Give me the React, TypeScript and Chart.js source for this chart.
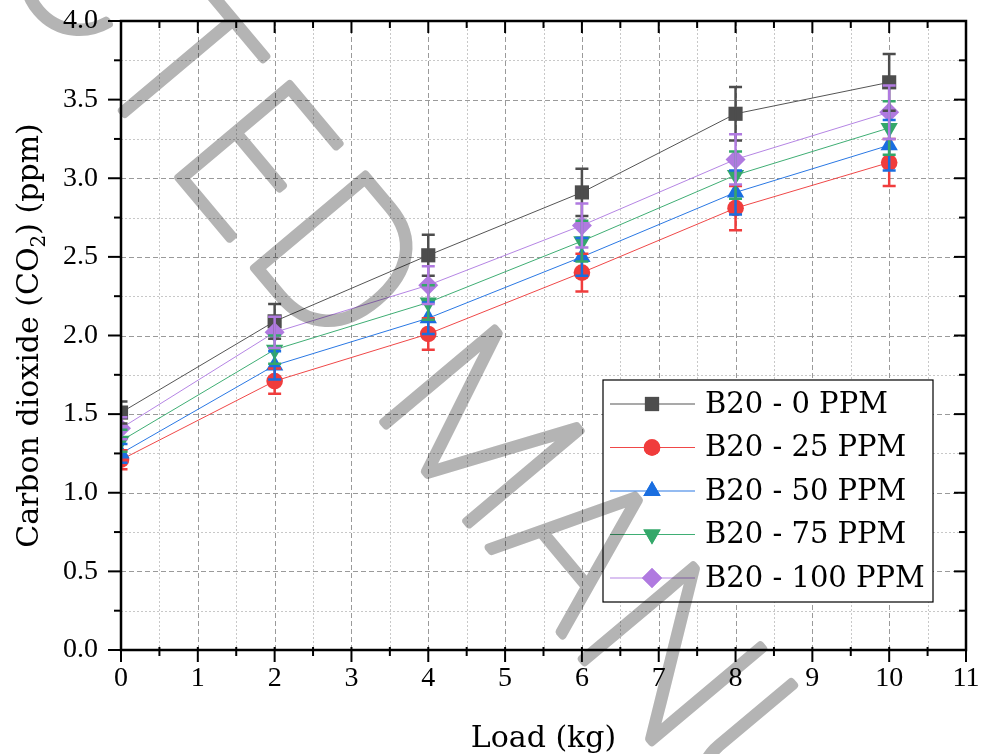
import React, { useEffect, useRef } from "react";
import { Chart, registerables } from "chart.js";
import { drawPoint } from "chart.js/helpers";
Chart.register(...registerables);

const loads = [0, 2, 4, 6, 8, 10];
const seriesNames = ["B20 - 0 PPM", "B20 - 25 PPM", "B20 - 50 PPM", "B20 - 75 PPM", "B20 - 100 PPM"];
const b20_0 = [1.51, 2.09, 2.51, 2.91, 3.41, 3.61];
const b20_25 = [1.21, 1.71, 2.01, 2.40, 2.81, 3.10];
const b20_50 = [1.25, 1.81, 2.11, 2.50, 2.91, 3.21];
const b20_75 = [1.33, 1.91, 2.21, 2.60, 3.02, 3.32];
const b20_100 = [1.41, 2.02, 2.32, 2.70, 3.12, 3.42];
const err_0 = [0.07, 0.11, 0.13, 0.15, 0.17, 0.18];
const err_25 = [0.06, 0.08, 0.10, 0.12, 0.14, 0.15];
const err_50 = [0.06, 0.09, 0.10, 0.12, 0.14, 0.16];
const err_75 = [0.07, 0.09, 0.11, 0.13, 0.15, 0.17];
const err_100 = [0.07, 0.10, 0.12, 0.14, 0.16, 0.17];
const seriesValues = [b20_0, b20_25, b20_50, b20_75, b20_100];
const seriesErrors = [err_0, err_25, err_50, err_75, err_100];

const xMajorTicks = [0, 1, 2, 3, 4, 5, 6, 7, 8, 9, 10, 11];
const xMinorTicks = [0.5, 1.5, 2.5, 3.5, 4.5, 5.5, 6.5, 7.5, 8.5, 9.5, 10.5];
const yMajorTicks = [0, 0.5, 1, 1.5, 2, 2.5, 3, 3.5, 4];
const yMinorTicks = [0.25, 0.75, 1.25, 1.75, 2.25, 2.75, 3.25, 3.75];

const xTitle = "Load (kg)";
const yTitleParts = ["Carbon dioxide (CO", "2", ") (ppm)"];
const watermark = "RETRACTED MANUSCRIPT";

const markerColors = ["#4d4d4d", "#f03c3c", "#1a6ee0", "#34a86a", "#b07ae0"];
const lineColors = ["#555555", "#f04848", "#2a78e4", "#3fae74", "#b585e4"];
const pointStyles = ["rect", "circle", "triangle", "triangle", "rectRot"];
const pointRotations = [0, 0, 0, 180, 0];
const pointRadii = [10, 8.3, 10, 10, 10];

const FONT = '"DejaVu Serif", serif';
const TICK_FONT = '"Liberation Serif", "Times New Roman", serif';

const wmCandidates = [
  '200 200px "DejaVu Sans"',
  '300 200px Lato',
  '100 200px Lato',
  '300 200px Inter',
  '100 200px Inter',
  '300 200px Roboto',
  '100 200px Roboto',
  '300 200px "Open Sans"',
  '300 200px "Noto Sans"',
  '400 200px "DejaVu Sans"',
];

function measureStem(font: string): number {
  const c = document.createElement("canvas");
  c.width = 200; c.height = 260;
  const g = c.getContext("2d")!;
  g.font = font;
  g.fillStyle = "#000";
  g.textBaseline = "alphabetic";
  g.fillText("l", 60, 220);
  const row = g.getImageData(0, 150, 200, 1).data;
  let n = 0;
  for (let i = 0; i < 200; i++) if (row[i * 4 + 3] > 128) n++;
  return n;
}

function drawWatermark(ctx: CanvasRenderingContext2D, W: number, H: number) {
  const target = 13;
  let best = wmCandidates[wmCandidates.length - 1];
  let bestStem = 1e9;
  for (const f of wmCandidates) {
    const s = measureStem(f);
    if (s > 2 && s < bestStem) { bestStem = s; best = f; }
  }
  const off = document.createElement("canvas");
  off.width = W; off.height = H;
  const g = off.getContext("2d")! as any;
  g.font = best;
  g.textBaseline = "alphabetic";
  const wED = g.measureText("ED ").width;
  const sp = (319 - wED) / 3;
  g.letterSpacing = `${sp}px`;
  const prefixW = g.measureText("RETRACT").width;
  const lsb = -g.measureText("E").actualBoundingBoxLeft;
  const th = (50 * Math.PI) / 180;
  const ux = Math.cos(th), uy = Math.sin(th);
  const vx = Math.sin(th), vy = -Math.cos(th);
  const half = Math.max(bestStem, target) / 2;
  const Px = 187 - vx * half, Py = 178 - vy * half;
  const along = prefixW + lsb + half;
  g.translate(Px - ux * along, Py - uy * along);
  g.rotate(th);
  g.fillStyle = "rgb(180,180,180)";
  g.strokeStyle = "rgb(180,180,180)";
  g.fillText(watermark, 0, 0);
  if (bestStem < target) {
    g.lineWidth = target - bestStem;
    g.lineJoin = "round";
    g.strokeText(watermark, 0, 0);
  }
  ctx.save();
  ctx.globalCompositeOperation = "multiply";
  ctx.drawImage(off, 0, 0);
  ctx.restore();
}

const customPlugin = {
  id: "customDraw",
  beforeDraw(chart: any) {
    const { ctx, width, height } = chart;
    ctx.save();
    ctx.fillStyle = "#ffffff";
    ctx.fillRect(0, 0, width, height);
    ctx.restore();
  },
  beforeDatasetsDraw(chart: any) {
    const { ctx, chartArea: a, scales } = chart;
    const x = scales.x, y = scales.y;
    ctx.save();
    ctx.lineWidth = 1;
    const vline = (v: number) => {
      const px = Math.round(x.getPixelForValue(v)) + 0.5;
      ctx.beginPath(); ctx.moveTo(px, a.top); ctx.lineTo(px, a.bottom); ctx.stroke();
    };
    const hline = (v: number) => {
      const py = Math.round(y.getPixelForValue(v)) + 0.5;
      ctx.beginPath(); ctx.moveTo(a.left, py); ctx.lineTo(a.right, py); ctx.stroke();
    };
    ctx.strokeStyle = "#c8c8c8";
    ctx.setLineDash([2, 2]);
    xMinorTicks.forEach(vline);
    yMinorTicks.forEach(hline);
    ctx.strokeStyle = "#9a9a9a";
    ctx.setLineDash([5, 3]);
    xMajorTicks.slice(1, -1).forEach(vline);
    yMajorTicks.slice(1, -1).forEach(hline);
    ctx.restore();
  },
  afterDatasetsDraw(chart: any) {
    const { ctx, chartArea: a, scales } = chart;
    const x = scales.x, y = scales.y;
    ctx.save();
    ctx.beginPath();
    ctx.rect(a.left, a.top, a.right - a.left, a.bottom - a.top);
    ctx.clip();
    ctx.lineWidth = 2.5;
    seriesValues.forEach((vals, i) => {
      ctx.strokeStyle = markerColors[i];
      vals.forEach((v, j) => {
        const e = seriesErrors[i][j];
        const px = x.getPixelForValue(loads[j]);
        const top = y.getPixelForValue(v + e);
        const bot = y.getPixelForValue(v - e);
        ctx.beginPath();
        ctx.moveTo(px, top); ctx.lineTo(px, bot);
        ctx.moveTo(px - 6.5, top); ctx.lineTo(px + 6.5, top);
        ctx.moveTo(px - 6.5, bot); ctx.lineTo(px + 6.5, bot);
        ctx.stroke();
      });
    });
    ctx.restore();
  },
  afterDraw(chart: any) {
    const { ctx, chartArea: a, scales } = chart;
    const x = scales.x, y = scales.y;
    ctx.save();
    // frame
    ctx.strokeStyle = "#000";
    ctx.lineWidth = 2.5;
    ctx.strokeRect(a.left, a.top, a.right - a.left, a.bottom - a.top);
    ctx.lineWidth = 2;
    const tk = (x1: number, y1: number, x2: number, y2: number) => {
      ctx.beginPath(); ctx.moveTo(x1, y1); ctx.lineTo(x2, y2); ctx.stroke();
    };
    xMajorTicks.forEach((v) => {
      const px = x.getPixelForValue(v);
      tk(px, a.bottom - 3, px, a.bottom + 12);
      tk(px, a.top, px, a.top + 12);
    });
    xMinorTicks.forEach((v) => {
      const px = x.getPixelForValue(v);
      tk(px, a.bottom - 3, px, a.bottom + 6);
      tk(px, a.top, px, a.top + 7);
    });
    yMajorTicks.forEach((v) => {
      const py = y.getPixelForValue(v);
      tk(a.left - 13, py, a.left, py);
      tk(a.right - 12, py, a.right, py);
    });
    yMinorTicks.forEach((v) => {
      const py = y.getPixelForValue(v);
      tk(a.left - 7, py, a.left, py);
      tk(a.right - 7, py, a.right, py);
    });

    // axis titles
    ctx.fillStyle = "#000";
    ctx.font = `30px ${FONT}`;
    ctx.textAlign = "center";
    ctx.textBaseline = "alphabetic";
    ctx.fillText(xTitle, (a.left + a.right) / 2, a.bottom + 97);

    ctx.save();
    ctx.translate(a.left - 83, (a.top + a.bottom) / 2);
    ctx.rotate(-Math.PI / 2);
    ctx.textAlign = "left";
    const big = `30px ${FONT}`, small = `20px ${FONT}`;
    ctx.font = big;
    const w1 = ctx.measureText(yTitleParts[0]).width;
    const w3 = ctx.measureText(yTitleParts[2]).width;
    ctx.font = small;
    const w2 = ctx.measureText(yTitleParts[1]).width;
    let sx = -(w1 + w2 + w3) / 2;
    ctx.font = big;
    ctx.fillText(yTitleParts[0], sx, 0);
    sx += w1;
    ctx.font = small;
    ctx.fillText(yTitleParts[1], sx, 7);
    sx += w2;
    ctx.font = big;
    ctx.fillText(yTitleParts[2], sx, 0);
    ctx.restore();

    // legend
    const lx = a.left + 482, ly = a.top + 359, lw = 330, lh = 222;
    ctx.fillStyle = "#fff";
    ctx.fillRect(lx, ly, lw, lh);
    ctx.strokeStyle = "#000";
    ctx.lineWidth = 1.2;
    ctx.strokeRect(lx, ly, lw, lh);
    ctx.font = `29px ${FONT}`;
    ctx.textAlign = "left";
    ctx.textBaseline = "middle";
    seriesNames.forEach((name, i) => {
      const ry = ly + 24 + i * 43.5;
      ctx.strokeStyle = lineColors[i];
      ctx.lineWidth = 1.2;
      ctx.beginPath(); ctx.moveTo(lx + 7, ry); ctx.lineTo(lx + 92, ry); ctx.stroke();
      ctx.fillStyle = markerColors[i];
      drawPoint(ctx, { pointStyle: pointStyles[i], rotation: pointRotations[i], radius: pointRadii[i], borderWidth: 0 } as any, lx + 49, ry);
      ctx.fill();
      ctx.fillStyle = "#000";
      ctx.fillText(name, lx + 102, ry + 1);
    });
    ctx.restore();

    drawWatermark(ctx, chart.width, chart.height);
  },
};

export default function App() {
  const ref = useRef<HTMLCanvasElement>(null);
  useEffect(() => {
    const canvas = ref.current!;
    const datasets = seriesValues.map((vals, i) => ({
      label: seriesNames[i],
      data: loads.map((lx, j) => ({ x: lx, y: vals[j] })),
      borderColor: lineColors[i],
      backgroundColor: markerColors[i],
      borderWidth: 1,
      pointStyle: pointStyles[i],
      pointRotation: pointRotations[i],
      pointRadius: pointRadii[i],
      pointBorderWidth: 0,
      pointBackgroundColor: markerColors[i],
      pointBorderColor: markerColors[i],
      clip: 0,
      order: seriesNames.length - i,
    }));
    const chart = new Chart(canvas, {
      type: "line",
      data: { datasets } as any,
      options: {
        responsive: false,
        animation: false,
        layout: { padding: { left: 0, right: 18, top: 21, bottom: 0 } },
        plugins: { legend: { display: false }, tooltip: { enabled: false } },
        scales: {
          x: {
            type: "linear",
            min: 0,
            max: 11,
            grid: { display: false, drawTicks: false },
            border: { display: false },
            afterFit: (s: any) => {
              s.height = 104;
              s.paddingLeft = 0; s.paddingRight = 0; s.paddingTop = 0; s.paddingBottom = 0;
            },
            ticks: {
              stepSize: 1,
              padding: 12,
              color: "#000",
              font: { family: TICK_FONT, size: 28 },
              callback: (v: any) => String(v),
            },
          },
          y: {
            type: "linear",
            min: 0,
            max: 4,
            grid: { display: false, drawTicks: false },
            border: { display: false },
            afterFit: (s: any) => {
              s.width = 121;
              s.paddingLeft = 0; s.paddingRight = 0; s.paddingTop = 0; s.paddingBottom = 0;
            },
            ticks: {
              stepSize: 0.5,
              padding: 23,
              color: "#000",
              font: { family: TICK_FONT, size: 28 },
              callback: (v: any) => Number(v).toFixed(1),
            },
          },
        },
      } as any,
      plugins: [customPlugin],
    });
    return () => chart.destroy();
  }, []);
  return (
    <canvas
      ref={ref}
      width={984}
      height={754}
      style={{ position: "absolute", left: 0, top: 0, width: 984, height: 754 }}
    />
  );
}
